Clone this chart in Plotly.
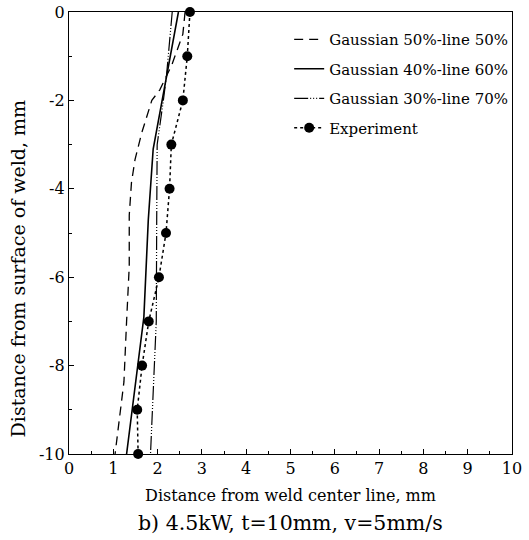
import plotly.graph_objects as go

# Depth (mm) values, y axis
depth_exp = [0, -1, -2, -3, -4, -5, -6, -7, -8, -9, -10]
width_exp = [2.73, 2.67, 2.57, 2.31, 2.27, 2.19, 2.03, 1.80, 1.65, 1.54, 1.56]

depth_g50 = [0, -0.5, -1.2, -1.76, -2.0, -2.74, -3.34, -3.86, -4.6, -5.75, -7.0, -8.37, -10]
width_g50 = [2.62, 2.57, 2.32, 2.05, 1.87, 1.64, 1.49, 1.41, 1.36, 1.36, 1.30, 1.24, 1.04]

depth_g40 = [0, -1.45, -2.0, -2.37, -3.1, -4.7, -6.9, -10]
width_g40 = [2.47, 2.20, 2.09, 2.03, 1.90, 1.79, 1.69, 1.30]

depth_g30 = [0, -1.45, -2.0, -3.0, -4.7, -7.0, -10]
width_g30 = [2.33, 2.20, 2.13, 1.99, 1.98, 1.97, 1.84]

x_ticks = list(range(0, 11))
x_tick_labels = [str(v) for v in x_ticks]
y_ticks = [0, -2, -4, -6, -8, -10]
y_tick_labels = ["0", "-2", "-4", "-6", "-8", "-10"]

names = ["Gaussian 50%-line 50%", "Gaussian 40%-line 60%",
         "Gaussian 30%-line 70%", "Experiment"]

FONT = "DejaVu Serif"

fig = go.Figure()
fig.add_trace(go.Scatter(x=width_g50, y=depth_g50, mode="lines", name=names[0],
                         legendgroup="a", cliponaxis=False,
                         line=dict(color="black", width=1.3, dash="9px,6px")))
fig.add_trace(go.Scatter(x=width_g40, y=depth_g40, mode="lines", name=names[1],
                         legendgroup="b", cliponaxis=False,
                         line=dict(color="black", width=1.6, dash="solid")))
fig.add_trace(go.Scatter(x=width_g30, y=depth_g30, mode="lines", name=names[2],
                         legendgroup="c", cliponaxis=False,
                         line=dict(color="black", width=1.2,
                                   dash="14px,2px,1px,2px,1px,2px,1px,2px")))
fig.add_trace(go.Scatter(x=width_exp, y=depth_exp, mode="lines+markers", name=names[3],
                         legendgroup="d", cliponaxis=False,
                         line=dict(color="black", width=1.5, dash="dot"),
                         marker=dict(color="black", size=10, symbol="circle")))

axis_common = dict(
    showline=True, linecolor="black", linewidth=1.3, mirror=True,
    ticks="inside", ticklen=5, tickcolor="black", tickwidth=1,
    showgrid=False, zeroline=False, automargin=False,
    tickfont=dict(family=FONT, size=16, color="black"),
)

fig.update_xaxes(range=[0, 10], tickmode="array", tickvals=x_ticks, ticktext=x_tick_labels,
                 minor=dict(dtick=0.5, ticks="inside", ticklen=3, tickcolor="black"),
                 ticklabelstandoff=0,
                 title=dict(text="Distance from weld center line, mm", standoff=12,
                            font=dict(family=FONT, size=16, color="black")),
                 **axis_common)
fig.update_yaxes(range=[-10, 0], tickmode="array", tickvals=y_ticks, ticktext=y_tick_labels,
                 minor=dict(dtick=1, ticks="inside", ticklen=3, tickcolor="black"),
                 **axis_common)

fig.add_annotation(text="Distance from surface of weld, mm", xref="paper", yref="paper",
                   x=-0.116, y=0.419, xanchor="center", yanchor="middle", showarrow=False,
                   textangle=-90,
                   font=dict(family=FONT, size=19, color="black"))

fig.add_annotation(text="b) 4.5kW, t=10mm, v=5mm/s", xref="paper", yref="paper",
                   x=0.5, y=-0.156, xanchor="center", yanchor="middle", showarrow=False,
                   font=dict(family=FONT, size=20.5, color="black"))

fig.update_layout(
    width=529, height=540,
    margin=dict(l=69, r=17, t=12, b=86, autoexpand=False),
    paper_bgcolor="white", plot_bgcolor="white",
    showlegend=True,
    legend=dict(x=0.497, y=0.975, xanchor="left", yanchor="top",
                bgcolor="rgba(0,0,0,0)", borderwidth=0,
                traceorder="grouped", tracegroupgap=7,
                font=dict(family=FONT, size=15, color="black")),
)

fig.write_html("out.html", config={"displayModeBar": False},
               post_script="document.body.style.margin='0';")
